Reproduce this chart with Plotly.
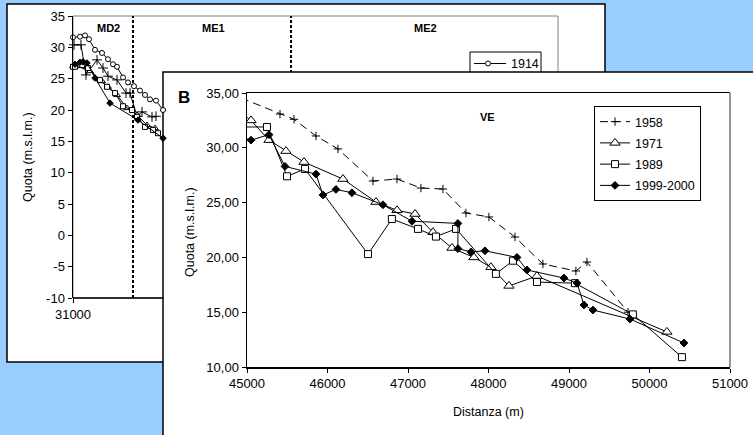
import plotly.graph_objects as go

# ---------------- data: panel A (background chart, only the visible part) ----------------
A_1914_x = [31000, 31202, 31346, 31462, 31635, 31837, 32010, 32155, 32270, 32444, 32588, 32761, 32934, 33079, 33223, 33396, 33598]
A_1914_y = [31.6, 31.7, 31.9, 31.3, 29.6, 29.1, 28.1, 27.3, 26.9, 25.2, 24.4, 23.8, 23.1, 22.4, 21.7, 21.5, 20.0]

A_1958_x = [31030, 31230, 31375, 31693, 31866, 32010, 32270, 32530, 32646, 32848, 32992, 33280, 33396]
A_1958_y = [30.4, 30.4, 25.6, 28.0, 26.7, 25.4, 24.8, 22.7, 22.7, 19.0, 19.7, 18.9, 19.0]

A_1971_x = [31000, 31115, 31491, 31837, 32010, 32270, 32559, 32848, 33136, 33367]
A_1971_y = [27.0, 27.0, 26.2, 24.6, 23.7, 22.4, 20.3, 19.2, 17.6, 17.1]

A_1989_x = [31000, 31058, 31433, 31779, 31982, 32213, 32444, 32703, 32848, 33079, 33310, 33454]
A_1989_y = [26.9, 26.9, 26.7, 24.8, 23.7, 22.7, 20.6, 20.0, 18.9, 17.3, 16.8, 16.3]

A_1999_x = [31058, 31200, 31289, 31404, 31635, 32068, 32877, 33598]
A_1999_y = [27.3, 27.6, 27.7, 27.5, 25.1, 21.1, 18.4, 15.5]

A_zone_bounds = [32732, 37294]
A_zone_labels = ["MD2", "ME1", "ME2"]
A_yticks = [-10, -5, 0, 5, 10, 15, 20, 25, 30, 35]
A_yticktext = ["-10", "-5", "0", "5", "10", "15", "20", "25", "30", "35"]
A_xticks = [31000]

# ---------------- data: panel B (front chart, VE) ----------------
B_1958_x = [44925, 45410, 45584, 45857, 46130, 46565, 46863, 47161, 47434, 47720, 48005, 48329, 48676, 49086, 49223, 49733]
B_1958_y = [34.55, 33.08, 32.6, 31.08, 29.9, 26.97, 27.15, 26.33, 26.24, 24.05, 23.69, 21.86, 19.4, 18.76, 19.58, 15.0]

B_1971_x = [44925, 45050, 45273, 45484, 45708, 46192, 46602, 46863, 47087, 47310, 47546, 47819, 48030, 48254, 48602, 50216]
B_1971_y = [33.2, 32.5, 30.7, 29.7, 28.7, 27.15, 25.05, 24.3, 23.96, 22.3, 20.86, 20.0, 19.1, 17.4, 18.3, 13.2]

B_1989_x = [44925, 45248, 45497, 45720, 46503, 46800, 47124, 47347, 47596, 48092, 48304, 48602, 49074, 49794, 50403]
B_1989_y = [31.9, 31.9, 27.4, 28.07, 20.3, 23.5, 22.6, 21.9, 22.6, 18.5, 19.7, 17.75, 17.65, 14.8, 10.9]

B_1999_x = [44925, 45050, 45273, 45472, 45857, 45944, 46105, 46304, 46689, 47050, 47620, 47620, 47782, 47956,
            48354, 48478, 48937, 49099, 49186, 49297, 49757, 50428]
B_1999_y = [31.0, 30.7, 31.2, 28.3, 27.6, 25.7, 26.2, 25.9, 24.8, 23.3, 23.1, 20.8, 20.5, 20.6,
            20.0, 18.85, 18.12, 17.66, 15.66, 15.2, 14.38, 12.19]

B_xticks = [45000, 46000, 47000, 48000, 49000, 50000, 51000]
B_yticks = [10, 15, 20, 25, 30, 35]
B_yticktext = ["10,00", "15,00", "20,00", "25,00", "30,00", "35,00"]

# ---------------- layout helpers (pixel -> paper) ----------------
W, H = 753, 435
def fx(p):
    return p / W
def fy(p):
    return 1 - p / H

FONT = "Arial, Liberation Sans, sans-serif"
BLUE = "#99CCFF"

fig = go.Figure()

# Panel A traces
def a_trace(x, y, symbol, size, fill):
    return go.Scatter(x=x, y=y, xaxis="x", yaxis="y", mode="lines+markers", showlegend=False,
                      cliponaxis=False, hoverinfo="skip",
                      line=dict(color="black", width=1),
                      marker=dict(symbol=symbol, size=size, color=fill,
                                  line=dict(color="black", width=1)))

fig.add_trace(a_trace(A_1958_x, A_1958_y, "cross-thin", 7, "black"))
fig.add_trace(a_trace(A_1971_x, A_1971_y, "triangle-up", 6, "white"))
fig.add_trace(a_trace(A_1989_x, A_1989_y, "square", 5, "white"))
fig.add_trace(a_trace(A_1999_x, A_1999_y, "diamond", 5, "black"))
fig.add_trace(a_trace(A_1914_x, A_1914_y, "circle", 5, "white"))

# Panel B traces
def b_trace(x, y, name, symbol, size, fill, dash="solid"):
    return go.Scatter(x=x, y=y, xaxis="x2", yaxis="y2", mode="lines+markers", name=name,
                      legendgroup=name, hoverinfo="skip",
                      line=dict(color="black", width=1, dash=dash),
                      marker=dict(symbol=symbol, size=size, color=fill,
                                  line=dict(color="black", width=1)))

fig.add_trace(b_trace(B_1958_x, B_1958_y, "1958", "cross-thin", 6, "black", dash="8px,5px"))
fig.add_trace(b_trace(B_1971_x, B_1971_y, "1971", "triangle-up", 9, "white"))
fig.add_trace(b_trace(B_1989_x, B_1989_y, "1989", "square", 7, "white"))
fig.add_trace(b_trace(B_1999_x, B_1999_y, "1999-2000", "diamond", 6, "black"))

shapes = []
# Panel A box
shapes.append(dict(type="rect", xref="paper", yref="paper", layer="below",
                   x0=fx(7), x1=fx(605), y0=fy(362), y1=fy(4),
                   fillcolor="white", line=dict(color="black", width=1.5)))
# Panel A plot-area border (grey)
shapes.append(dict(type="rect", xref="paper", yref="paper", layer="below",
                   x0=fx(73), x1=fx(558), y0=fy(298), y1=fy(16),
                   line=dict(color="#808080", width=1)))
# Panel A bottom axis line
shapes.append(dict(type="line", xref="paper", yref="paper", layer="below",
                   x0=fx(73), x1=fx(558), y0=fy(298), y1=fy(298),
                   line=dict(color="black", width=1.5)))
# Zone boundaries (dotted)
for xb in A_zone_bounds:
    shapes.append(dict(type="line", xref="x", yref="paper", layer="below",
                       x0=xb, x1=xb, y0=fy(298), y1=fy(16),
                       line=dict(color="black", width=2, dash="3px,2px")))
# Panel A legend (only top entry visible)
shapes.append(dict(type="rect", xref="paper", yref="paper", layer="below",
                   x0=fx(470), x1=fx(541), y0=fy(100), y1=fy(52),
                   fillcolor="white", line=dict(color="black", width=1)))
shapes.append(dict(type="line", xref="paper", yref="paper", layer="below",
                   x0=fx(474), x1=fx(506), y0=fy(63.5), y1=fy(63.5),
                   line=dict(color="black", width=1)))
shapes.append(dict(type="circle", xref="paper", yref="paper", layer="below",
                   x0=fx(485.5), x1=fx(490.5), y0=fy(66), y1=fy(61),
                   fillcolor="white", line=dict(color="black", width=1)))
# Panel B box
shapes.append(dict(type="rect", xref="paper", yref="paper", layer="below",
                   x0=fx(163), x1=fx(780), y0=fy(460), y1=fy(72),
                   fillcolor="white", line=dict(color="black", width=1.5)))
# Panel B right border (grey)
shapes.append(dict(type="line", xref="x2 domain", yref="y2 domain", layer="above",
                   x0=1, x1=1, y0=0, y1=1, line=dict(color="#707070", width=1.5)))

annotations = []
def ann(text, x, y, size, bold=False, angle=0, xanchor="center"):
    annotations.append(dict(text=("<b>%s</b>" % text) if bold else text, xref="paper", yref="paper",
                            x=fx(x), y=fy(y), xanchor=xanchor, yanchor="middle", showarrow=False,
                            textangle=angle, font=dict(family=FONT, size=size, color="black")))

ann(A_zone_labels[0], 108, 28, 11, bold=True)
ann(A_zone_labels[1], 213, 28, 11, bold=True)
ann(A_zone_labels[2], 425, 28, 11, bold=True)
ann("1914", 509, 63.5, 12.5, xanchor="left")
ann("Quota (m.s.l.m.)", 28, 157, 12.5, angle=-90)
ann("B", 184, 98, 17, bold=True)
ann("VE", 487, 117, 11, bold=True)
ann("Quota (m.s.l.m.)", 190, 232, 12.5, angle=-90)
ann("Distanza (m)", 488, 412, 12.5)

fig.update_layout(
    width=W, height=H,
    margin=dict(l=0, r=0, t=0, b=0, pad=0, autoexpand=False),
    paper_bgcolor=BLUE,
    plot_bgcolor="rgba(0,0,0,0)",
    font=dict(family=FONT, size=12.5, color="black"),
    hovermode=False,
    shapes=shapes,
    annotations=annotations,
    xaxis=dict(domain=[fx(73), fx(558)], range=[31000, 45000], showline=False, showgrid=False,
               zeroline=False, tickvals=A_xticks, ticktext=[str(v) for v in A_xticks],
               ticks="outside", ticklen=4, tickcolor="black",
               tickfont=dict(size=13), anchor="y"),
    yaxis=dict(domain=[fy(298), fy(16)], range=[-10, 35], tickvals=A_yticks, ticktext=A_yticktext,
               showline=True, linecolor="black", linewidth=1.5, ticks="outside", ticklen=4,
               tickcolor="black", showgrid=False, zeroline=False, tickfont=dict(size=13), anchor="x"),
    xaxis2=dict(domain=[fx(247), fx(730)], range=[45000, 51000], tickvals=B_xticks,
                ticktext=[str(v) for v in B_xticks], showline=True,
                linecolor="black", linewidth=1.5, mirror=True, ticks="outside", ticklen=4,
                tickcolor="black", showgrid=False, zeroline=False, tickfont=dict(size=13), anchor="y2"),
    yaxis2=dict(domain=[fy(367), fy(93)], range=[10, 35], tickvals=B_yticks, ticktext=B_yticktext,
                showline=True, linecolor="black", linewidth=1.5, ticks="outside", ticklen=4,
                tickcolor="black", showgrid=False, zeroline=False, tickfont=dict(size=13), anchor="x2"),
    legend=dict(x=fx(594), y=fy(106), xanchor="left", yanchor="top", bgcolor="white",
                bordercolor="black", borderwidth=1, font=dict(family=FONT, size=12.5),
                tracegroupgap=2, traceorder="grouped"),
)

fig.write_html(
    "out.html",
    config={"displayModeBar": False, "staticPlot": True},
    post_script="document.body.style.margin='0';document.body.style.overflow='hidden';",
)
